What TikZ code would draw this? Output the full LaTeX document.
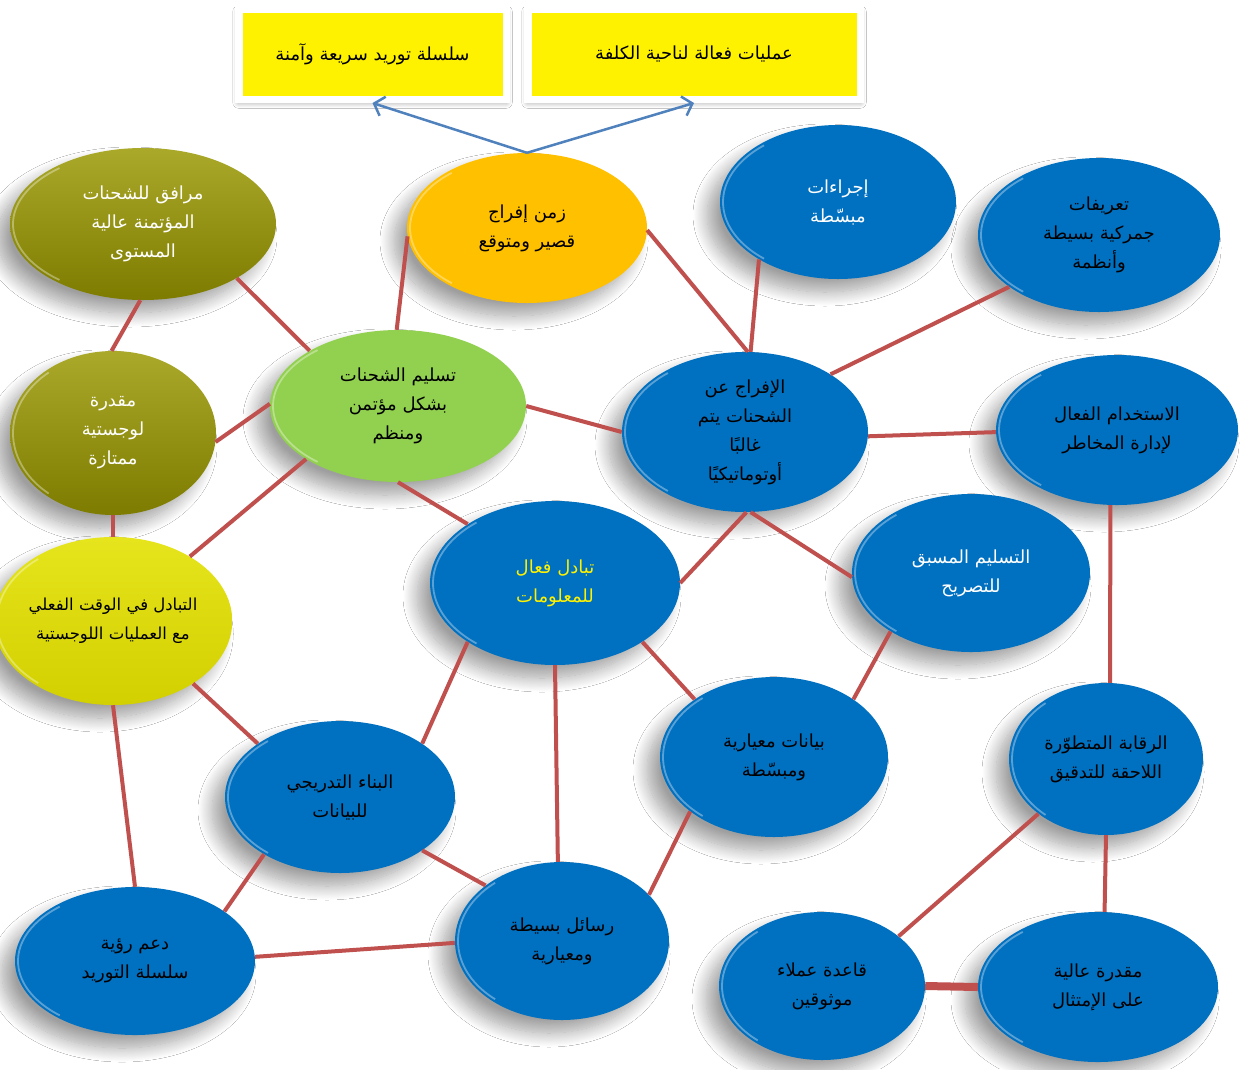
\documentclass[tikz,border=0pt]{standalone}
\usepackage{fontspec}
\newfontfamily\arabicfont[Script=Arabic]{DejaVu Sans}
\TeXXeTstate=1
\usetikzlibrary{shapes.geometric,arrows.meta,shadows.blur,calc}
\newcommand{\ar}[1]{\beginR #1\endR}
\definecolor{nblue}{HTML}{0070C0}
\definecolor{nred}{HTML}{C0504D}
\definecolor{abl}{HTML}{4F81BD}
\definecolor{oltop}{HTML}{ABA92A}
\definecolor{olbot}{HTML}{7D7C00}
\definecolor{ngreen}{HTML}{92D050}
\definecolor{norange}{HTML}{FFC000}
\definecolor{nyel}{HTML}{D2D000}
\definecolor{nyeltop}{HTML}{E6E41C}
\tikzset{
  rim/.style={path picture={
    \draw[white, opacity=0.35, line width=1.8pt]
      let \p1=(path picture bounding box.north east),
          \p2=(path picture bounding box.center),
          \n1={\x1-\x2-3pt}, \n2={\y1-\y2-3pt} in
      (\p2) ++(130:\n1 and \n2) arc[start angle=130, end angle=230, x radius=\n1, y radius=\n2];
  }},
  bub/.style={ellipse, inner sep=0pt, align=center, rim,
    font=\arabicfont\fontsize{18}{29}\selectfont,
    blur shadow={shadow xshift=-13pt, shadow yshift=-13pt, shadow blur radius=14pt,
      shadow blur steps=20, shadow opacity=38}},
  bluen/.style={bub, fill=nblue, text=black},
  olive/.style={bub, top color=oltop, bottom color=olbot, text=white},
  link/.style={draw=nred, line width=4pt},
  arr/.style={draw=abl, line width=2.5pt, -{Straight Barb[length=9pt,width=20pt,line width=2.5pt]}},
  ybox/.style={rectangle, fill=yellow, draw=white, line width=7.5pt, inner sep=0pt,
    font=\arabicfont\fontsize{18}{29}\selectfont,
    blur shadow={shadow xshift=0pt, shadow yshift=-3pt, shadow blur radius=6pt,
      shadow blur steps=12, shadow opacity=40}}
}
\begin{document}
\begin{tikzpicture}[x=1pt,y=-1pt]
\useasboundingbox[fill=white] (0,0) rectangle (1249,1069);
% top boxes
\node[ybox, minimum width=267.5pt, minimum height=90.5pt] (bL) at (372.5,54) {\ar{سلسلة توريد سريعة وآمنة}};
\node[ybox, minimum width=332.5pt, minimum height=90.5pt] (bR) at (694,54) {\ar{عمليات فعالة لناحية الكلفة}};
% ellipses
\node[bub, fill=norange, minimum width=240pt, minimum height=150pt] (n3) at (527,228) {\ar{زمن إفراج}\\\ar{قصير ومتوقع}};
\node[olive, minimum width=266pt, minimum height=152pt] (n4) at (143,224) {\ar{مرافق للشحنات}\\\ar{المؤتمنة عالية}\\\ar{المستوى}};
\node[bluen, text=white, minimum width=236pt, minimum height=154pt] (n5) at (838,202) {\ar{إجراءات}\\\ar{مبسّطة}};
\node[bluen, minimum width=242pt, minimum height=154pt] (n6) at (1099,235) {\ar{تعريفات}\\\ar{جمركية بسيطة}\\\ar{وأنظمة}};
\node[olive, minimum width=206pt, minimum height=164pt] (n7) at (113,433) {\ar{مقدرة}\\\ar{لوجستية}\\\ar{ممتازة}};
\node[bub, fill=ngreen, minimum width=256pt, minimum height=152pt] (n8) at (398,406) {\ar{تسليم الشحنات}\\\ar{بشكل مؤتمن}\\\ar{ومنظم}};
\node[bluen, minimum width=246pt, minimum height=160pt] (n9) at (745,432) {\ar{الإفراج عن}\\\ar{الشحنات يتم}\\\ar{غالبًا}\\\ar{أوتوماتيكيًا}};
\node[bluen, minimum width=242pt, minimum height=150pt] (n10) at (1117,430) {\ar{الاستخدام الفعال}\\\ar{لإدارة المخاطر}};
\node[bub, top color=nyeltop, bottom color=nyel, minimum width=210pt, minimum height=168pt,
  font=\arabicfont\fontsize{16.5}{29}\selectfont] (n11) at (113,621) {\ar{التبادل في الوقت الفعلي}\\\ar{مع العمليات اللوجستية}};
\node[bluen, text=yellow, minimum width=250pt, minimum height=164pt] (n12) at (555,583) {\ar{تبادل فعال}\\\ar{للمعلومات}};
\node[bluen, text=white, minimum width=238pt, minimum height=158pt] (n13) at (971,573) {\ar{التسليم المسبق}\\\ar{للتصريح}};
\node[bluen, minimum width=228pt, minimum height=160pt] (n14) at (774,757) {\ar{بيانات معيارية}\\\ar{ومبسّطة}};
\node[bluen, minimum width=194pt, minimum height=152pt] (n15) at (1106,759) {\ar{الرقابة المتطوّرة}\\\ar{اللاحقة للتدقيق}};
\node[bluen, minimum width=230pt, minimum height=152pt] (n16) at (340,797) {\ar{البناء التدريجي}\\\ar{للبيانات}};
\node[bluen, minimum width=240pt, minimum height=148pt] (n17) at (135,961) {\ar{دعم رؤية}\\\ar{سلسلة التوريد}};
\node[bluen, minimum width=214pt, minimum height=158pt] (n18) at (562,941) {\ar{رسائل بسيطة}\\\ar{ومعيارية}};
\node[bluen, minimum width=206pt, minimum height=148pt] (n19) at (822,986) {\ar{قاعدة عملاء}\\\ar{موثوقين}};
\node[bluen, minimum width=240pt, minimum height=150pt] (n20) at (1098,987) {\ar{مقدرة عالية}\\\ar{على الإمتثال}};
% arrows
\draw[arr] (n3.north) -- (bL.south);
\draw[arr] (n3.north) -- (bR.south);
% links
\draw[link] (n3.184) -- (n8.91);
\draw[link] (n3.-1) -- (n9.88);
\draw[link] (n4.-30) -- (n8.148);
\draw[link] (n4.-92) -- (n7.91);
\draw[link] (n5.-144) -- (n9.86);
\draw[link] (n6.-150) -- (n9.34);
\draw[link] (n7.-5) -- (n8.179);
\draw[link] (n7.-90) -- (n11.90);
\draw[link] (n8.0) -- (n9.180);
\draw[link] (n8.-150) -- (n11.40);
\draw[link] (n8.-90) -- (n12.146);
\draw[link] (n9.-2) -- (n10.181);
\draw[link] (n9.-89) -- (n12.0);
\draw[link] (n9.-86) -- (n13.182);
\draw[link] (n10.-95) -- (n15.87);
\draw[link] (n11.-38) -- (n16.147);
\draw[link] (n11.-90) -- (n17.90);
\draw[link] (n12.-146) -- (n16.33);
\draw[link] (n12.-90) -- (n18.93);
\draw[link] (n12.-34) -- (n14.144);
\draw[link] (n13.-144) -- (n14.36);
\draw[link] (n14.-147) -- (n18.28);
\draw[link] (n16.-143) -- (n17.29);
\draw[link] (n16.-33) -- (n18.144);
\draw[link] (n17.2) -- (n18.181);
\draw[link] (n15.-141) -- (n19.33);
\draw[link] (n15.-90) -- (n20.85);
\draw[link, line width=8pt] (n19.0) -- (n20.180);
\end{tikzpicture}
\end{document}
